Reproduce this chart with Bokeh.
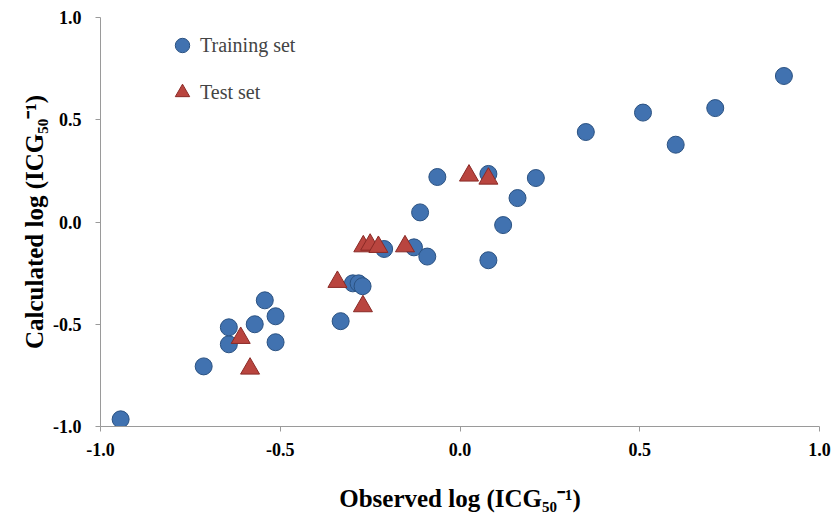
from bokeh.plotting import figure
from bokeh.models import FixedTicker, PrintfTickFormatter, Legend, LegendItem, Range1d
from bokeh.embed import file_html
from bokeh.resources import INLINE

# Training set (observed, calculated)
train_obs = [-0.944, -0.713, -0.643, -0.643, -0.571, -0.543, -0.513, -0.513, -0.332,
             -0.298, -0.282, -0.271, -0.211, -0.128, -0.091, -0.111, -0.063, 0.079,
             0.211, 0.160, 0.120, 0.079, 0.350, 0.509, 0.710, 0.600, 0.901]
train_calc = [-0.965, -0.706, -0.598, -0.515, -0.500, -0.383, -0.461, -0.588, -0.485,
              -0.300, -0.300, -0.314, -0.132, -0.124, -0.169, 0.047, 0.220, 0.235,
              0.215, 0.117, -0.015, -0.187, 0.440, 0.535, 0.557, 0.378, 0.714]

# Test set
test_obs = [-0.610, -0.584, -0.341, -0.270, -0.269, -0.250, -0.227, -0.153, 0.025, 0.079]
test_calc = [-0.567, -0.717, -0.293, -0.412, -0.119, -0.111, -0.122, -0.119, 0.227, 0.212]

ticks = [-1.0, -0.5, 0.0, 0.5, 1.0]

FONT = "Liberation Serif"

p = figure(width=833, height=516, output_backend="svg", toolbar_location=None,
           x_range=Range1d(-1.0, 1.0), y_range=Range1d(-1.0, 1.0),
           min_border_left=100, min_border_right=14, min_border_top=17, min_border_bottom=90)
p.outline_line_color = None
p.xgrid.grid_line_color = None
p.ygrid.grid_line_color = None

for ax in (p.xaxis, p.yaxis):
    ax.ticker = FixedTicker(ticks=ticks)
    ax.formatter = PrintfTickFormatter(format="%.1f")
    ax.axis_line_color = "#9a9a9a"
    ax.major_tick_line_color = "#9a9a9a"
    ax.minor_tick_line_color = None
    ax.major_tick_in = 0
    ax.major_tick_out = 5
    ax.major_label_text_font = FONT
    ax.major_label_text_font_style = "bold"
    ax.major_label_text_font_size = "18px"
    ax.major_label_text_color = "black"
    ax.axis_label_text_font = FONT
    ax.axis_label_text_font_style = "bold"
    ax.axis_label_text_font_size = "25px"
    ax.axis_label_text_color = "black"

p.xaxis.axis_label = "Observed log (ICG\u2085\u2080\u207b\u00b9)"
p.yaxis.axis_label = "Calculated log (ICG\u2085\u2080\u207b\u00b9)"
p.xaxis.major_label_standoff = 11
p.yaxis.major_label_standoff = 14
p.xaxis.axis_label_standoff = 26
p.yaxis.axis_label_standoff = 2

r_train = p.scatter(train_obs, train_calc, marker="circle", size=17,
                    fill_color="#4172b0", line_color="#2b5282", line_width=1)
r_test = p.scatter(test_obs, test_calc, marker="triangle", size=19,
                   fill_color="#b9453f", line_color="#8a2a26", line_width=1)

legend = Legend(items=[LegendItem(label="Training set", renderers=[r_train]),
                       LegendItem(label="Test set", renderers=[r_test])],
                location=(64, 313), orientation="vertical",
                border_line_color=None, background_fill_alpha=0,
                label_text_font=FONT, label_text_font_size="20px",
                glyph_width=36, glyph_height=42, label_standoff=0,
                spacing=5, padding=0, margin=0)
p.add_layout(legend)

open("out.html", "w").write(file_html(p, INLINE))
